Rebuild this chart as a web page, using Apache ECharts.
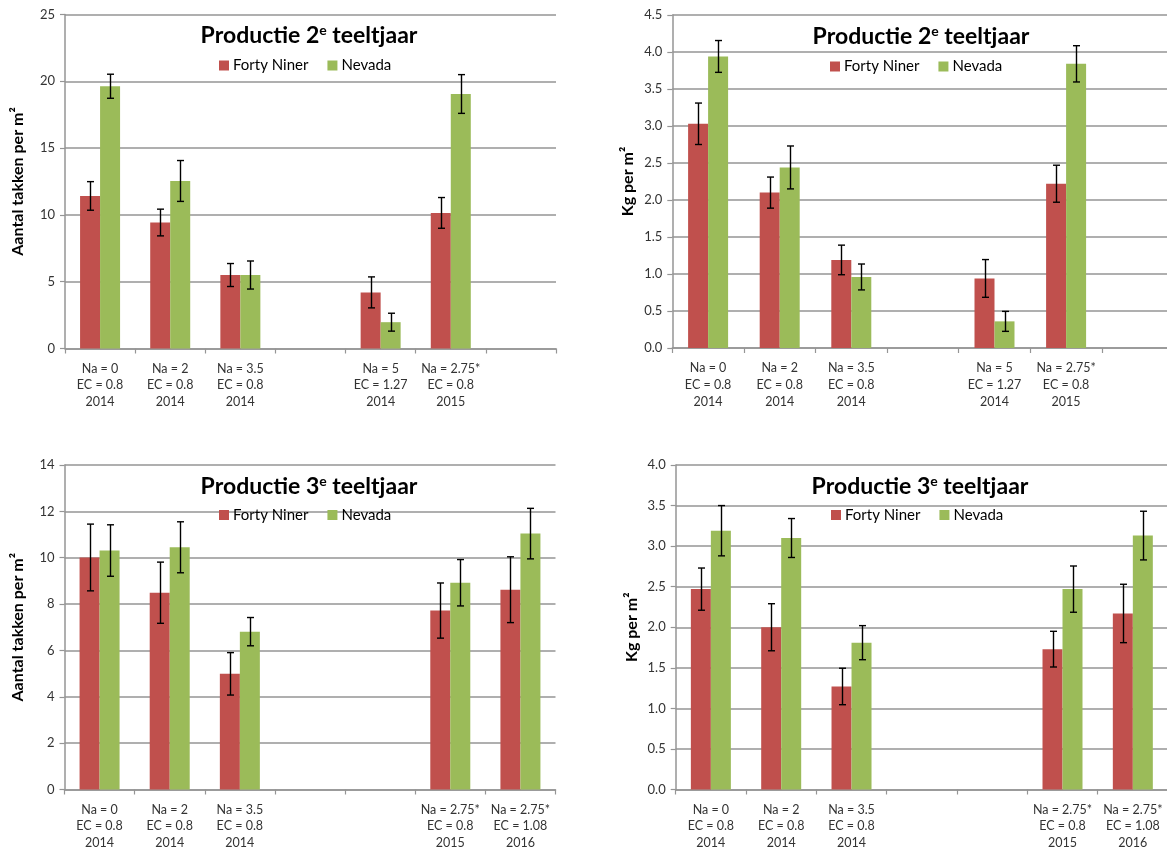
<!DOCTYPE html>
<html><head><meta charset="utf-8">
<script src="https://cdn.jsdelivr.net/npm/echarts@6/dist/echarts.min.js"></script>
<style>html,body{margin:0;padding:0;background:#fff}#c{width:1167px;height:847px}</style>
</head><body><div id="c"></div>
<script>
// ---------- data ----------
const seriesNames = ['Forty Niner', 'Nevada'];
const cats2 = ['Na = 0\nEC = 0.8\n2014', 'Na = 2\nEC = 0.8\n2014', 'Na = 3.5\nEC = 0.8\n2014', '', 'Na = 5\nEC = 1.27\n2014', 'Na = 2.75*\nEC = 0.8\n2015', ''];
const cats3 = ['Na = 0\nEC = 0.8\n2014', 'Na = 2\nEC = 0.8\n2014', 'Na = 3.5\nEC = 0.8\n2014', '', '', 'Na = 2.75*\nEC = 0.8\n2015', 'Na = 2.75*\nEC = 1.08\n2016'];

// Panel 1: Productie 2e teeltjaar, Aantal takken per m2
const takken2Forty = [11.42, 9.43, 5.50, null, 4.20, 10.15, null];
const takken2FortyErr = [1.07, 1.00, 0.86, null, 1.16, 1.15, null];
const takken2Nevada = [19.63, 12.54, 5.50, null, 1.97, 19.05, null];
const takken2NevadaErr = [0.90, 1.53, 1.05, null, 0.67, 1.45, null];

// Panel 2: Productie 2e teeltjaar, Kg per m2
const kg2Forty = [3.03, 2.10, 1.19, null, 0.94, 2.22, null];
const kg2FortyErr = [0.28, 0.21, 0.20, null, 0.255, 0.25, null];
const kg2Nevada = [3.94, 2.44, 0.96, null, 0.36, 3.84, null];
const kg2NevadaErr = [0.215, 0.29, 0.175, null, 0.135, 0.245, null];

// Panel 3: Productie 3e teeltjaar, Aantal takken per m2
const takken3Forty = [10.01, 8.49, 4.99, null, null, 7.72, 8.62];
const takken3FortyErr = [1.44, 1.32, 0.915, null, null, 1.19, 1.42];
const takken3Nevada = [10.31, 10.45, 6.81, null, null, 8.92, 11.04];
const takken3NevadaErr = [1.11, 1.10, 0.61, null, null, 1.00, 1.09];

// Panel 4: Productie 3e teeltjaar, Kg per m2
const kg3Forty = [2.47, 2.00, 1.27, null, null, 1.73, 2.17];
const kg3FortyErr = [0.26, 0.29, 0.225, null, null, 0.22, 0.36];
const kg3Nevada = [3.19, 3.10, 1.81, null, null, 2.47, 3.13];
const kg3NevadaErr = [0.31, 0.24, 0.21, null, null, 0.285, 0.30];

// ---------- style ----------
const RED = '#C0504D', GREEN = '#9BBB59', GRIDC = '#959595';
const FONT = 'Lato, "Liberation Sans", sans-serif';

const panels = [
  {grid: {left: 65, top: 14.5, width: 491, height: 334}, cats: cats2, max: 25, interval: 5, dec: 0,
   name: 'Aantal takken per m²', nameGap: 39, title: '2', titleX: 309, titleY: 23, legendX: 219, legendY: 58,
   f: takken2Forty, fe: takken2FortyErr, n: takken2Nevada, ne: takken2NevadaErr},
  {grid: {left: 672.3, top: 15, width: 501.2, height: 333}, cats: cats2, max: 4.5, interval: 0.5, dec: 1,
   name: 'Kg per m²', nameGap: 36, title: '2', titleX: 921, titleY: 24, legendX: 830, legendY: 59,
   f: kg2Forty, fe: kg2FortyErr, n: kg2Nevada, ne: kg2NevadaErr},
  {grid: {left: 64.5, top: 465, width: 491, height: 324.5}, cats: cats3, max: 14, interval: 2, dec: 0,
   name: 'Aantal takken per m²', nameGap: 39, title: '3', titleX: 309, titleY: 474, legendX: 219, legendY: 507.5,
   f: takken3Forty, fe: takken3FortyErr, n: takken3Nevada, ne: takken3NevadaErr},
  {grid: {left: 675.7, top: 465, width: 492.3, height: 324.5}, cats: cats3, max: 4, interval: 0.5, dec: 1,
   name: 'Kg per m²', nameGap: 36, title: '3', titleX: 920, titleY: 474, legendX: 831, legendY: 507.5,
   f: kg3Forty, fe: kg3FortyErr, n: kg3Nevada, ne: kg3NevadaErr}
];

function errRender(offset) {
  return function (params, api) {
    const x = api.value(0), v = api.value(1), e = api.value(2);
    const hi = api.coord([x, v + e]), lo = api.coord([x, v - e]);
    const cx = Math.round(hi[0] + offset) + 0.5;
    const cap = 3.5;
    const st = {stroke: '#000', lineWidth: 1.4};
    return {type: 'group', children: [
      {type: 'line', shape: {x1: cx, y1: hi[1], x2: cx, y2: lo[1]}, style: st},
      {type: 'line', shape: {x1: cx - cap, y1: hi[1], x2: cx + cap, y2: hi[1]}, style: st},
      {type: 'line', shape: {x1: cx - cap, y1: lo[1], x2: cx + cap, y2: lo[1]}, style: st}
    ]};
  };
}
function errData(vals, errs) {
  const out = [];
  vals.forEach((v, i) => { if (v != null) out.push([i, v, errs[i]]); });
  return out;
}

const option = {
  backgroundColor: '#fff',
  animation: false,
  textStyle: {fontFamily: FONT},
  grid: [], xAxis: [], yAxis: [], title: [], legend: [], series: []
};

panels.forEach((p, k) => {
  option.grid.push(Object.assign({containLabel: false, outerBoundsMode: 'none'}, p.grid));
  option.xAxis.push({
    type: 'category', gridIndex: k, data: p.cats,
    axisLine: {lineStyle: {color: GRIDC, width: 1.5}},
    axisTick: {show: true, length: 5, lineStyle: {color: GRIDC, width: 1.2}},
    axisLabel: {interval: 0, color: '#333', fontSize: 12.5, lineHeight: 16.6, margin: 12, fontFamily: FONT},
    splitLine: {show: false}
  });
  option.yAxis.push({
    type: 'value', gridIndex: k, min: 0, max: p.max, interval: p.interval,
    name: p.name, nameLocation: 'middle', nameRotate: 90, nameGap: p.nameGap,
    nameTextStyle: {fontSize: 16, fontWeight: 'bold', color: '#000', fontFamily: FONT},
    axisLine: {show: true, lineStyle: {color: GRIDC, width: 1.5}},
    axisTick: {show: true, length: 5, lineStyle: {color: GRIDC, width: 1.2}},
    axisLabel: {color: '#333', fontSize: 13, margin: 10, fontFamily: FONT,
      formatter: v => v.toFixed(p.dec)},
    splitLine: {show: true, lineStyle: {color: GRIDC, width: 1.5}}
  });
  option.title.push({
    text: '{a|Productie ' + p.title + '}{s|e}{a| teeltjaar}',
    left: p.titleX, top: p.titleY, textAlign: 'center', padding: 0,
    textStyle: {rich: {
      a: {fontSize: 23, fontWeight: 'bold', color: '#000', fontFamily: FONT, lineHeight: 26},
      s: {fontSize: 14, fontWeight: 'bold', color: '#000', fontFamily: FONT, verticalAlign: 'top', lineHeight: 14, padding: [0, 0, 10, 0]}
    }}
  });
  option.legend.push({
    data: seriesNames, left: p.legendX, top: p.legendY, padding: 0,
    itemWidth: 10, itemHeight: 10, itemGap: 19, icon: 'rect',
    textStyle: {fontSize: 15, color: '#000', fontFamily: FONT, padding: [0, 0, 0, -1]}
  });
  option.series.push(
    {name: seriesNames[0], type: 'bar', xAxisIndex: k, yAxisIndex: k, data: p.f,
     barWidth: 20, barGap: '0%', itemStyle: {color: RED}},
    {name: seriesNames[1], type: 'bar', xAxisIndex: k, yAxisIndex: k, data: p.n,
     barWidth: 20, barGap: '0%', itemStyle: {color: GREEN}},
    {name: 'err', type: 'custom', xAxisIndex: k, yAxisIndex: k, z: 5,
     renderItem: errRender(-10), data: errData(p.f, p.fe), encode: {x: 0, y: 1}},
    {name: 'err', type: 'custom', xAxisIndex: k, yAxisIndex: k, z: 5,
     renderItem: errRender(10), data: errData(p.n, p.ne), encode: {x: 0, y: 1}}
  );
});

const chart = echarts.init(document.getElementById('c'), null, {renderer: 'canvas'});
chart.setOption(option);
</script>
</body></html>
